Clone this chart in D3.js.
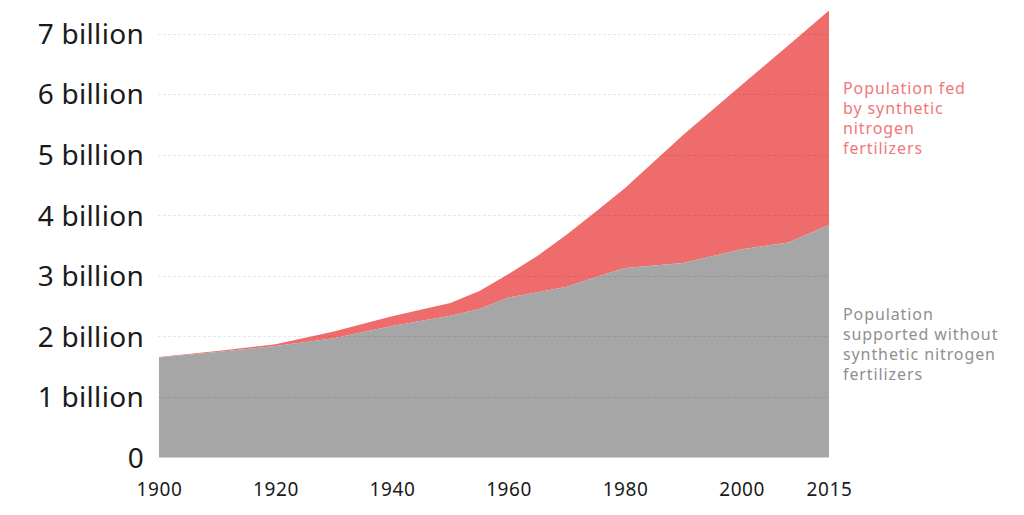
<!DOCTYPE html>
<html>
<head>
<meta charset="utf-8">
<script src="https://cdn.jsdelivr.net/npm/d3@7"></script>
<style>
  html, body { margin: 0; padding: 0; background: #fff; }
  svg { display: block; }
  text { font-family: "Noto Sans", "DejaVu Sans", sans-serif; }
</style>
</head>
<body>
<svg id="chart" width="1024" height="515"></svg>
<script>
// Data (billions)
const years   = [1900, 1910, 1920, 1930, 1940, 1950, 1955, 1960, 1965, 1970, 1975, 1980, 1990, 2000, 2008, 2015];
const without = [1.65, 1.74, 1.84, 1.97, 2.17, 2.34, 2.45, 2.64, 2.73, 2.82, 2.98, 3.13, 3.21, 3.44, 3.55, 3.84];
const total   = [1.66, 1.76, 1.87, 2.08, 2.33, 2.55, 2.75, 3.03, 3.33, 3.68, 4.06, 4.45, 5.33, 6.15, 6.80, 7.38];
const yTicks  = [0, 1, 2, 3, 4, 5, 6, 7];
const yTickLabels = ["0", "1 billion", "2 billion", "3 billion", "4 billion", "5 billion", "6 billion", "7 billion"];
const xTicks  = [1900, 1920, 1940, 1960, 1980, 2000, 2015];
const labelFed = ["Population fed", "by synthetic", "nitrogen", "fertilizers"];
const labelWithout = ["Population", "supported without", "synthetic nitrogen", "fertilizers"];

const data = years.map((y, i) => ({ year: y, base: without[i], total: total[i] }));

const svg = d3.select("#chart");
const x = d3.scaleLinear().domain([1900, 2015]).range([159, 829]);
const y = d3.scaleLinear().domain([0, 7]).range([457.5, 33.5]);

// Areas
const areaTotal = d3.area().x(d => x(d.year)).y0(d => y(d.base)).y1(d => y(d.total));
const areaBase = d3.area().x(d => x(d.year)).y0(y(0)).y1(d => y(d.base));

svg.append("path").datum(data).attr("d", areaTotal).attr("fill", "#ee6c6b");
svg.append("path").datum(data).attr("d", areaBase).attr("fill", "#a5a6a5");

// Grid lines
svg.append("g").selectAll("line").data(yTicks.filter(t => t > 0)).join("line")
  .attr("x1", 158).attr("x2", 829)
  .attr("y1", d => Math.round(y(d)) + 0.5).attr("y2", d => Math.round(y(d)) + 0.5)
  .attr("stroke", "#000").attr("stroke-opacity", 0.09)
  .attr("stroke-width", 1).attr("stroke-dasharray", "3,2");

// Y axis labels
const yAxis = d3.axisLeft(y).tickValues(yTicks).tickFormat((d, i) => yTickLabels[i]).tickSize(0).tickPadding(0);
const gy = svg.append("g").attr("transform", "translate(144,0)").call(yAxis);
gy.select(".domain").remove();
gy.selectAll("text").attr("font-size", 28).attr("fill", "#1a1a1a")
  .attr("letter-spacing", "0.3px")
  .attr("font-family", "\"Noto Sans\", sans-serif").attr("dy", "0.35em");

// X axis labels
const xAxis = d3.axisBottom(x).tickValues(xTicks).tickFormat(d3.format("d")).tickSize(0).tickPadding(0);
const gx = svg.append("g").attr("transform", "translate(0,481)").call(xAxis);
gx.select(".domain").remove();
gx.selectAll("text").attr("font-size", 19).attr("fill", "#1a1a1a")
  .attr("letter-spacing", "0.6px")
  .attr("font-family", "\"Noto Sans\", sans-serif").attr("dy", "0.8em");

// Annotations
function annot(lines, x0, y0, color) {
  const g = svg.append("g");
  lines.forEach((l, i) => g.append("text")
    .attr("x", x0).attr("y", y0 + i * 20)
    .attr("font-family", "\"DejaVu Sans\", sans-serif")
    .attr("font-size", 16).attr("letter-spacing", "0.9px").attr("fill", color)
    .text(l));
}
annot(labelFed, 843, 94, "#f07878");
annot(labelWithout, 843, 320, "#8f8f8f");
</script>
</body>
</html>
